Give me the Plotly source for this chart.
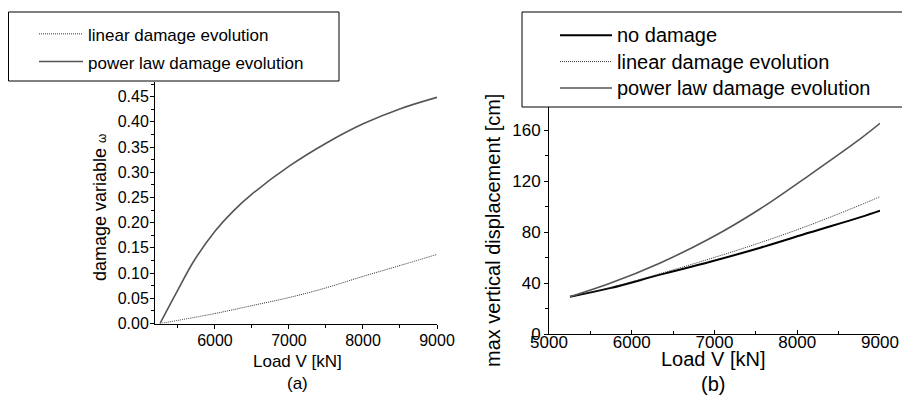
import plotly.graph_objects as go

# ---- data (a): damage variable vs load ----
load_a_pow = [5258, 5505, 5707, 6000, 6247, 6503, 7003, 7507, 8002, 8506, 9000]
power_a = [0.0, 0.068, 0.122, 0.183, 0.223, 0.257, 0.312, 0.358, 0.396, 0.426, 0.4485]
load_a_lin = [5258, 6000, 6500, 7003, 7507, 8002, 8500, 9000]
linear_a = [0.0, 0.0198, 0.0355, 0.0515, 0.071, 0.0935, 0.115, 0.137]

# ---- data (b): max vertical displacement vs load ----
load_b = [5254, 5738, 6344, 6949, 7554, 8160, 8765, 9000]
no_damage_b = [29.5, 36.2, 46.8, 56.9, 67.9, 80.0, 91.9, 97.0]
linear_b = [29.5, 36.6, 47.6, 59.3, 71.9, 85.9, 101.5, 108.0]
power_b = [29.5, 40.0, 56.0, 75.3, 98.5, 125.5, 153.5, 165.5]

W, H = 902, 395
def px(x):
    return x / W
def py(y):
    return (H - y) / H

FONT = "Liberation Sans, Arial, sans-serif"
GRAY = "#555555"
DOT = dict(color="#333333", width=1, dash="1px,1px", shape="spline")
POW = dict(color=GRAY, width=1.6, shape="spline")

def nm(t, size):
    return "<span style='font-size:%dpx'>%s</span>" % (size, t)

fig = go.Figure()

# panel (a)
fig.add_trace(go.Scatter(x=load_a_lin, y=linear_a, mode="lines", name=nm("linear damage evolution", 17),
                         line=DOT, xaxis="x", yaxis="y", legend="legend"))
fig.add_trace(go.Scatter(x=load_a_pow, y=power_a, mode="lines", name=nm("power law damage evolution", 17),
                         line=POW, xaxis="x", yaxis="y", legend="legend"))
# panel (b)
fig.add_trace(go.Scatter(x=load_b, y=no_damage_b, mode="lines", name=nm("no damage", 20),
                         line=dict(color="black", width=2, shape="spline"),
                         xaxis="x2", yaxis="y2", legend="legend2"))
fig.add_trace(go.Scatter(x=load_b, y=linear_b, mode="lines", name=nm("linear damage evolution", 20),
                         line=DOT, xaxis="x2", yaxis="y2", legend="legend2"))
fig.add_trace(go.Scatter(x=load_b, y=power_b, mode="lines", name=nm("power law damage evolution", 20),
                         line=POW, xaxis="x2", yaxis="y2", legend="legend2"))

axis_common = dict(showline=True, linecolor="black", linewidth=1,
                   ticklen=4, tickwidth=1, tickcolor="black", showgrid=False, zeroline=False,
                   mirror=False)

fig.update_layout(
    width=W, height=H,
    margin=dict(l=0, r=0, t=0, b=0, autoexpand=False),
    paper_bgcolor="white", plot_bgcolor="white",
    font=dict(family=FONT, color="black"),
    showlegend=True,
    xaxis=dict(domain=[px(155), px(437)], range=[5190, 9000], anchor="y", ticks="outside",
               tickvals=[6000, 7000, 8000, 9000], ticktext=["6000", "7000", "8000", "9000"],
               tickfont=dict(size=16), ticklabelstandoff=-2,
               minor=dict(dtick=500, tick0=5000, ticks="outside", ticklen=3, tickcolor="black"),
               **axis_common),
    yaxis=dict(domain=[py(323.5), py(82)], range=[0, 0.479], anchor="x", ticks="outside",
               tickvals=[0, 0.05, 0.10, 0.15, 0.20, 0.25, 0.30, 0.35, 0.40, 0.45],
               ticktext=["0.00", "0.05", "0.10", "0.15", "0.20", "0.25", "0.30", "0.35", "0.40", "0.45"],
               tickfont=dict(size=16), ticklabelstandoff=-2,
               minor=dict(dtick=0.025, tick0=0, ticks="outside", ticklen=3, tickcolor="black"),
               **axis_common),
    xaxis2=dict(domain=[px(549), px(880)], range=[5000, 9000], anchor="y2", ticks="inside",
                tickvals=[5000, 6000, 7000, 8000, 9000],
                tickfont=dict(size=17), ticklabelstandoff=-8,
                minor=dict(dtick=500, tick0=5000, ticks="inside", ticklen=3, tickcolor="black"),
                **axis_common),
    yaxis2=dict(domain=[py(334.3), py(107)], range=[0, 178.3], anchor="x2", ticks="outside",
                tickvals=[0, 40, 80, 120, 160],
                tickfont=dict(size=17),
                minor=dict(dtick=20, tick0=0, ticks="outside", ticklen=3, tickcolor="black"),
                **axis_common),
    legend=dict(x=px(34), y=py(15), xanchor="left", yanchor="top", bgcolor="rgba(0,0,0,0)",
                borderwidth=0, font=dict(size=19, family=FONT), itemwidth=44, tracegroupgap=0),
    legend2=dict(x=px(555), y=py(17), xanchor="left", yanchor="top", bgcolor="rgba(0,0,0,0)",
                 borderwidth=0, font=dict(size=18, family=FONT), itemwidth=52, tracegroupgap=0),
    shapes=[
        dict(type="rect", xref="paper", yref="paper", x0=px(8.5), x1=px(339), y0=py(81), y1=py(12),
             line=dict(color="black", width=1), fillcolor="white", layer="below"),
        dict(type="rect", xref="paper", yref="paper", x0=px(522), x1=px(910), y0=py(107), y1=py(12),
             line=dict(color="black", width=1), fillcolor="white", layer="below"),
    ],
    annotations=[
        dict(text="damage variable <span style='font-size:12px'>ω</span>", xref="paper", yref="paper",
             x=px(100), y=py(208), textangle=-90, showarrow=False, font=dict(size=18),
             xanchor="center", yanchor="middle"),
        dict(text="Load V [kN]", xref="paper", yref="paper", x=px(297), y=py(361), showarrow=False,
             font=dict(size=17), xanchor="center", yanchor="middle"),
        dict(text="(a)", xref="paper", yref="paper", x=px(297), y=py(383), showarrow=False,
             font=dict(size=17), xanchor="center", yanchor="middle"),
        dict(text="max vertical displacement [cm]", xref="paper", yref="paper",
             x=px(493), y=py(230), textangle=-90, showarrow=False, font=dict(size=20),
             xanchor="center", yanchor="middle"),
        dict(text="Load V [kN]", xref="paper", yref="paper", x=px(713), y=py(359), showarrow=False,
             font=dict(size=20), xanchor="center", yanchor="middle"),
        dict(text="(b)", xref="paper", yref="paper", x=px(713), y=py(384), showarrow=False,
             font=dict(size=20), xanchor="center", yanchor="middle"),
    ],
)

fig.write_html("out.html", config={"displayModeBar": False},
               post_script="document.body.style.margin='0px';document.body.style.overflow='hidden';")
